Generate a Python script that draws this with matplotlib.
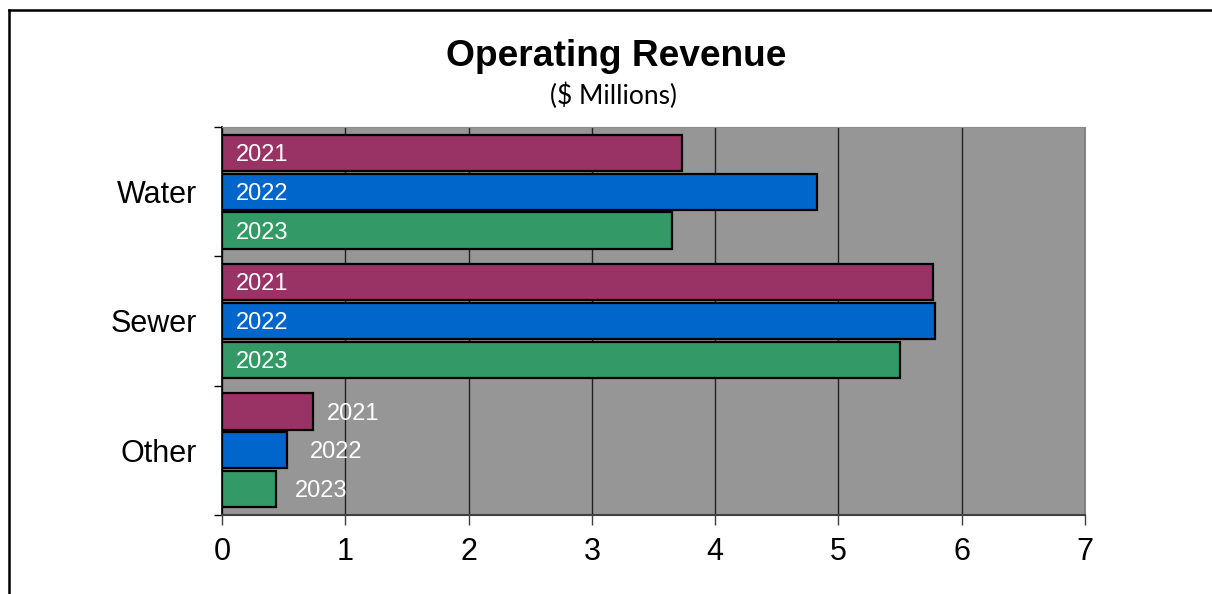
import numpy as np
import matplotlib.pyplot as plt
from matplotlib.lines import Line2D

# Data ($ millions)
categories = ["Water", "Sewer", "Other"]
years = ["2021", "2022", "2023"]
values_2021 = [3.73, 5.77, 0.74]
values_2022 = [4.83, 5.78, 0.53]
values_2023 = [3.65, 5.50, 0.44]
colors = ["#993366", "#0066CC", "#339966"]

series = [values_2021, values_2022, values_2023]
offsets = [-0.30, 0.0, 0.30]
bar_h = 0.28
outside_pad = [10, 16.5, 13.5]  # points, labels that sit past short bars

fig = plt.figure(figsize=(12.12, 5.94), dpi=100)
ax = fig.add_axes([222 / 1212, 79 / 594, 863 / 1212, 388 / 594])
ax.set_facecolor("#969696")

y = np.arange(len(categories))
for k, (vals, off, col, yr) in enumerate(zip(series, offsets, colors, years)):
    bars = ax.barh(y + off, vals, height=bar_h, color=col,
                   edgecolor="black", linewidth=1.6, zorder=3)
    for b, v in zip(bars, vals):
        cy = b.get_y() + b.get_height() / 2
        if v > 1.5:
            ax.annotate(yr, (0, cy), xytext=(10, -1.5), textcoords="offset points",
                        ha="left", va="center", color="white", fontsize=17,
                        family="Liberation Sans", zorder=4)
        else:
            ax.annotate(yr, (v, cy), xytext=(outside_pad[k], -1.5),
                        textcoords="offset points",
                        ha="left", va="center", color="white", fontsize=17,
                        family="Liberation Sans", zorder=4)

ax.set_xlim(0, 7)
ax.set_ylim(2.5, -0.5)
ax.set_xticks(range(8))
ax.set_xticklabels([str(i) for i in range(8)], fontsize=22, family="Liberation Sans")
ax.set_yticks(y)
ax.set_yticklabels(categories, fontsize=22, family="Liberation Sans")
ax.set_yticks([-0.5, 0.5, 1.5, 2.5], minor=True)
ax.tick_params(axis="y", which="major", length=0, pad=18)
ax.tick_params(axis="y", which="minor", length=6, width=1, color="black")
ax.tick_params(axis="x", length=7, width=1, color="#404040", pad=9)
ax.grid(axis="x", color="#222222", linewidth=1, zorder=1)
ax.set_axisbelow(True)

ax.spines["left"].set_color("black")
ax.spines["left"].set_linewidth(1.2)
ax.spines["bottom"].set_color("#404040")
ax.spines["bottom"].set_linewidth(1.5)
ax.spines["top"].set_color("#8a8a8a")
ax.spines["right"].set_color("#8a8a8a")

fig.text(616 / 1212, 1 - 56 / 594, "Operating Revenue", ha="center", va="center",
         fontsize=26.7, fontweight="bold", family="Liberation Sans")
fig.text(614 / 1212, 1 - 96 / 594, "($ Millions)", ha="center", va="center",
         fontsize=19, family="Lato")

# chart border (cropped at the bottom and right)
fig.add_artist(Line2D([9 / 1212, 9 / 1212], [0, 1 - 10 / 594],
                      transform=fig.transFigure, color="black", linewidth=1.8))
fig.add_artist(Line2D([9 / 1212, 1], [1 - 10 / 594, 1 - 10 / 594],
                      transform=fig.transFigure, color="black", linewidth=1.8))

fig.savefig("out.png", dpi=100)
